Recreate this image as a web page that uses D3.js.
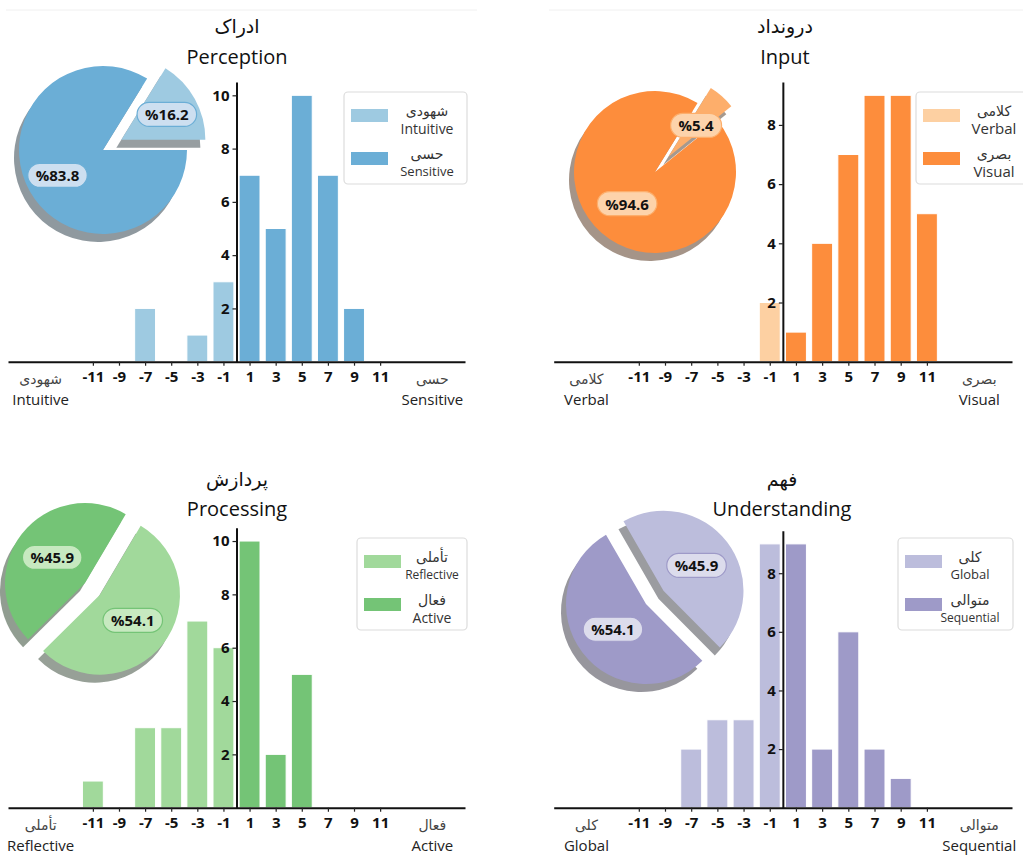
<!DOCTYPE html>
<html>
<head>
<meta charset="utf-8">
<script src="https://cdn.jsdelivr.net/npm/d3@7"></script>
<style>
  html, body { margin: 0; padding: 0; background: #fff; }
  svg { display: block; font-family: "Open Sans", "DejaVu Sans", sans-serif; }
</style>
</head>
<body>
<svg id="chart" width="1023" height="857"></svg>
<script>
// ---------- data ----------
const xTicks = [-11, -9, -7, -5, -3, -1, 1, 3, 5, 7, 9, 11];

const perceptionScores = [-7, -3, -1, 1, 3, 5, 7, 9];
const perceptionCounts = [2, 1, 3, 7, 5, 10, 7, 2];
const perceptionShares = [16.2, 83.8];      // Intuitive, Sensitive
const perceptionYTicks = [2, 4, 6, 8, 10];

const inputScores = [-1, 1, 3, 5, 7, 9, 11];
const inputCounts = [2, 1, 4, 7, 9, 9, 5];
const inputShares = [5.4, 94.6];            // Verbal, Visual
const inputYTicks = [2, 4, 6, 8];

const processingScores = [-11, -7, -5, -3, -1, 1, 3, 5];
const processingCounts = [1, 3, 3, 7, 6, 10, 2, 5];
const processingShares = [54.1, 45.9];      // Reflective, Active
const processingYTicks = [2, 4, 6, 8, 10];

const understandingScores = [-7, -5, -3, -1, 1, 3, 5, 7, 9];
const understandingCounts = [2, 3, 3, 9, 9, 2, 6, 2, 1];
const understandingShares = [45.9, 54.1];   // Global, Sequential
const understandingYTicks = [2, 4, 6, 8];

const titlesFa = ["ادراک", "درونداد", "پردازش", "فهم"];
const titlesEn = ["Perception", "Input", "Processing", "Understanding"];
const poleFa = [["شهودی", "حسی"], ["کلامی", "بصری"], ["تأملی", "فعال"], ["کلی", "متوالی"]];
const poleEn = [["Intuitive", "Sensitive"], ["Verbal", "Visual"], ["Reflective", "Active"], ["Global", "Sequential"]];

// ---------- layout & style per panel ----------
const panels = [
  { scores: perceptionScores, counts: perceptionCounts, shares: perceptionShares, yTicks: perceptionYTicks,
    x0: 8, x1: 465, yBase: 361.7, yTop: 82, titleX: 237, titleY: [26, 56],
    pie: { cx: 103, cy: 150, r: 84, start: 31.7, explode: [21, 0], pct: 0.62 },
    legend: { x: 344, y: 92, w: 123, tx: 427, enSize: [14, 13] },
    col: { neg: "#9ecae1", pos: "#6baed6", pie: ["#9ecae1", "#6baed6"], lf: "#cddff0", ls: "#6baed6" } },
  { scores: inputScores, counts: inputCounts, shares: inputShares, yTicks: inputYTicks,
    x0: 553.7, x1: 1012, yBase: 361.7, yTop: 82, titleX: 785, titleY: [26, 56],
    pie: { cx: 655, cy: 172, r: 81, start: 31.7, explode: [20, 0], pct: 0.52 },
    legend: { x: 916, y: 92, w: 112, tx: 994, enSize: [15, 15] },
    col: { neg: "#fdd0a2", pos: "#fd8d3c", pie: ["#fdae6b", "#fd8d3c"], lf: "#fdd3ab", ls: "#fdae6b" } },
  { scores: processingScores, counts: processingCounts, shares: processingShares, yTicks: processingYTicks,
    x0: 8, x1: 465, yBase: 807.7, yTop: 527.7, titleX: 237, titleY: [479, 508],
    pie: { cx: 85, cy: 583, r: 80, start: 30.6, explode: [19, 0], pct: 0.52 },
    legend: { x: 357, y: 538, w: 110, tx: 432, enSize: [12, 14] },
    col: { neg: "#a1d99b", pos: "#74c476", pie: ["#a1d99b", "#74c476"], lf: "#c7e9c0", ls: "#74c476" } },
  { scores: understandingScores, counts: understandingCounts, shares: understandingShares, yTicks: understandingYTicks,
    x0: 553.7, x1: 1012, yBase: 807.7, yTop: 530.7, titleX: 782, titleY: [479, 508],
    pie: { cx: 646, cy: 604, r: 80, start: -30, explode: [22, 0], pct: 0.52 },
    legend: { x: 898, y: 538, w: 115, tx: 970, enSize: [13, 12] },
    col: { neg: "#bcbddc", pos: "#9e9ac8", pie: ["#bcbddc", "#9e9ac8"], lf: "#dcdcec", ls: "#9e9ac8" } }
];

const svg = d3.select("#chart");

// faint separator lines along the top of the upper panels
svg.append("line").attr("x1", 6).attr("x2", 477).attr("y1", 10).attr("y2", 10)
  .attr("stroke", "#f0f0f0").attr("stroke-width", 1);
svg.append("line").attr("x1", 549).attr("x2", 1023).attr("y1", 10).attr("y2", 10)
  .attr("stroke", "#f0f0f0").attr("stroke-width", 1);

const rad = deg => deg * Math.PI / 180;

panels.forEach((p, i) => {
  const g = svg.append("g");

  const x = d3.scaleLinear().domain([-17.5, 17.5]).range([p.x0, p.x1]);
  const yMax = d3.max(p.counts) * 1.05;
  const y = d3.scaleLinear().domain([0, yMax]).range([p.yBase, p.yTop]);

  // ---- titles ----
  g.append("text").attr("x", p.titleX).attr("y", p.titleY[0])
    .attr("text-anchor", "middle").attr("dominant-baseline", "central")
    .attr("font-size", 19).attr("fill", "#111").text(titlesFa[i]);
  g.append("text").attr("x", p.titleX).attr("y", p.titleY[1])
    .attr("text-anchor", "middle").attr("dominant-baseline", "central")
    .attr("font-size", 20).attr("fill", "#111").text(titlesEn[i]);

  // ---- bars ----
  const bars = p.scores.map((s, k) => ({ s, v: p.counts[k] }));
  g.append("g").selectAll("rect").data(bars).join("rect")
    .attr("x", d => x(d.s - 0.8))
    .attr("width", d => x(d.s + 0.8) - x(d.s - 0.8))
    .attr("y", d => y(d.v))
    .attr("height", d => y(0) - y(d.v))
    .attr("fill", d => d.s < 0 ? p.col.neg : p.col.pos)
    .attr("stroke", "#fff").attr("stroke-width", 1);

  // ---- x axis ----
  const xAxis = g.append("g").attr("transform", `translate(0,${y(0)})`)
    .call(d3.axisBottom(x).tickValues(xTicks).tickSize(4).tickSizeOuter(0)
      .tickPadding(6).tickFormat(d => String(d)));
  xAxis.select(".domain").attr("stroke", "#111").attr("stroke-width", 2);
  xAxis.selectAll(".tick line").attr("stroke", "#222").attr("stroke-width", 1.2);
  xAxis.selectAll(".tick text").attr("font-size", 15).attr("font-weight", "bold")
    .attr("fill", "#111").attr("font-family", "Open Sans, DejaVu Sans, sans-serif");

  // ---- y axis (spine at score 0) ----
  const yAxis = g.append("g").attr("transform", `translate(${x(0)},0)`)
    .call(d3.axisLeft(y).tickValues(p.yTicks).tickSize(4).tickSizeOuter(0)
      .tickPadding(3).tickFormat(d => String(d)));
  yAxis.select(".domain").attr("stroke", "#111").attr("stroke-width", 2);
  yAxis.selectAll(".tick line").attr("stroke", "#222").attr("stroke-width", 1.2);
  yAxis.selectAll(".tick text").attr("font-size", 15).attr("font-weight", "bold")
    .attr("fill", "#111").attr("font-family", "Open Sans, DejaVu Sans, sans-serif");

  // ---- pole labels beneath the axis ----
  [-15, 15].forEach((pos, side) => {
    g.append("text").attr("x", x(pos)).attr("y", y(0) + 17)
      .attr("text-anchor", "middle").attr("dominant-baseline", "central")
      .attr("font-size", 14).attr("fill", "#444").text(poleFa[i][side]);
    g.append("text").attr("x", x(pos)).attr("y", y(0) + 37)
      .attr("text-anchor", "middle").attr("dominant-baseline", "central")
      .attr("font-size", 15).attr("fill", "#222").text(poleEn[i][side]);
  });

  // ---- legend ----
  const L = p.legend;
  const lg = g.append("g");
  lg.append("rect").attr("x", L.x).attr("y", L.y).attr("width", L.w).attr("height", 92)
    .attr("rx", 4).attr("fill", "#fff").attr("stroke", "#dcdcdc").attr("stroke-width", 1.2);
  [p.col.neg, p.col.pos].forEach((c, k) => {
    const oy = L.y + (k === 0 ? 17 : 60);
    lg.append("rect").attr("x", L.x + 7).attr("y", oy).attr("width", 37).attr("height", 13).attr("fill", c);
    lg.append("text").attr("x", L.tx).attr("y", oy + 1)
      .attr("text-anchor", "middle").attr("dominant-baseline", "central")
      .attr("font-size", 14).attr("fill", "#333").text(poleFa[i][k]);
    lg.append("text").attr("x", L.tx).attr("y", oy + 19)
      .attr("text-anchor", "middle").attr("dominant-baseline", "central")
      .attr("font-size", L.enSize[k]).attr("fill", "#333").text(poleEn[i][k]);
  });

  // ---- exploded pie with drop shadow ----
  const P = p.pie;
  const pie = d3.pie().sort(null).value(d => d)
    .startAngle(rad(P.start)).endAngle(rad(P.start) + 2 * Math.PI);
  const arcs = pie(p.shares);
  const arc = d3.arc().innerRadius(0).outerRadius(P.r);
  const labelArc = d3.arc().innerRadius(P.r * P.pct).outerRadius(P.r * P.pct);
  const offset = (a, k) => {
    const mid = (a.startAngle + a.endAngle) / 2;
    return [P.cx + Math.sin(mid) * P.explode[k], P.cy - Math.cos(mid) * P.explode[k]];
  };
  const pg = g.append("g");
  // shadows first, underneath every wedge
  arcs.forEach((a, k) => {
    const [ox, oy] = offset(a, k);
    const c = d3.rgb(p.col.pie[k]);
    pg.append("path").attr("d", arc(a))
      .attr("transform", `translate(${ox - 5},${oy + 8})`)
      .attr("fill", d3.rgb(c.r * 0.3, c.g * 0.3, c.b * 0.3)).attr("fill-opacity", 0.5);
  });
  arcs.forEach((a, k) => {
    const [ox, oy] = offset(a, k);
    pg.append("path").attr("d", arc(a))
      .attr("transform", `translate(${ox},${oy})`)
      .attr("fill", p.col.pie[k]);
  });
  arcs.forEach((a, k) => {
    const [ox, oy] = offset(a, k);
    const [lx, ly] = labelArc.centroid(a);
    const t = pg.append("text").attr("x", ox + lx).attr("y", oy + ly)
      .attr("text-anchor", "middle").attr("dominant-baseline", "central")
      .attr("font-size", 15).attr("font-weight", "bold").attr("fill", "#111")
      .text("%" + p.shares[k].toFixed(1));
    const w = t.node().getComputedTextLength() + 16;
    pg.insert("rect", () => t.node())
      .attr("x", ox + lx - w / 2).attr("y", oy + ly - 12)
      .attr("width", w).attr("height", 24).attr("rx", 12)
      .attr("fill", p.col.lf).attr("stroke", p.col.ls).attr("stroke-width", 1.2);
  });
});
</script>
</body>
</html>
